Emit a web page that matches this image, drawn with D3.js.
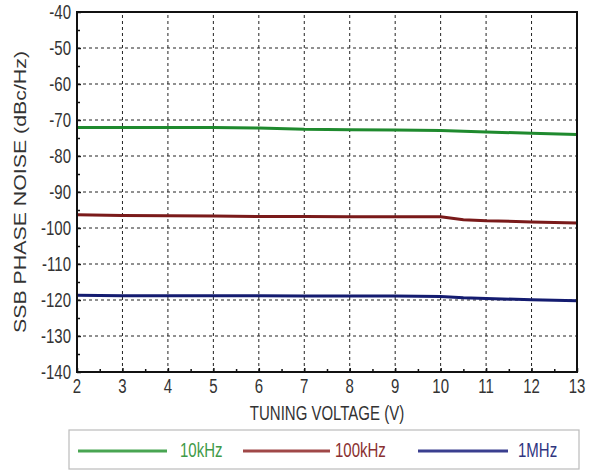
<!DOCTYPE html>
<html>
<head>
<meta charset="utf-8">
<script src="https://cdn.jsdelivr.net/npm/d3@7"></script>
<style>
  body { margin: 0; background: #fff; }
  text { font-family: Arial, "Liberation Sans", sans-serif; }
</style>
</head>
<body>
<script>
// tuning voltage points and phase noise per offset
var voltages = [2, 3, 4, 5, 6, 7, 8, 9, 10, 10.5, 11, 12, 13];
var noise10k = [-72.1, -72.1, -72.1, -72.1, -72.2, -72.6, -72.7, -72.8, -72.9, -73.1, -73.3, -73.7, -74.0];
var noise100k = [-96.3, -96.5, -96.6, -96.7, -96.8, -96.8, -96.9, -96.9, -96.9, -97.7, -98.0, -98.3, -98.6];
var noise1M = [-118.7, -118.8, -118.8, -118.8, -118.8, -118.9, -118.9, -118.9, -119.0, -119.4, -119.6, -119.9, -120.2];

var seriesNames = ['10kHz', '100kHz', '1MHz'];
var seriesColors = ['#1f8a2e', '#7a1a1a', '#141c70'];
var legendColors = ['#49a552', '#a04848', '#3a3f8f'];
var legendTextColors = ['#3f9a48', '#8a3030', '#2f357f'];
var xTicks = d3.range(2, 14);
var yTicks = d3.range(-140, -39, 10);

var width = 590, height = 474;
var margin = {left: 77, right: 13, top: 12, bottom: 102};
var stretch = 1.3; // the source text is drawn taller than wide

var svg = d3.select('body').append('svg')
  .attr('width', width)
  .attr('height', height);

var x = d3.scaleLinear().domain([2, 13]).range([margin.left, width - margin.right]);
var y = d3.scaleLinear().domain([-140, -40]).range([height - margin.bottom, margin.top]);

// hyphen instead of unicode minus, like the original
var fmt = function(d) { return String(d); };

// grid
var grid = svg.append('g');
grid.selectAll('.gx').data(xTicks.slice(1, -1)).enter().append('line')
  .attr('x1', function(d) { return x(d); }).attr('x2', function(d) { return x(d); })
  .attr('y1', y(-140)).attr('y2', y(-40))
  .attr('stroke', '#222').attr('stroke-width', 1).attr('stroke-dasharray', '3,3');
grid.selectAll('.gy').data(yTicks.slice(1, -1)).enter().append('line')
  .attr('x1', x(2)).attr('x2', x(13))
  .attr('y1', function(d) { return y(d); }).attr('y2', function(d) { return y(d); })
  .attr('stroke', '#222').attr('stroke-width', 1).attr('stroke-dasharray', '3,3');

// data lines
var line = d3.line()
  .x(function(d) { return x(d[0]); })
  .y(function(d) { return y(d[1]); });
[noise10k, noise100k, noise1M].forEach(function(vals, i) {
  svg.append('path')
    .datum(voltages.map(function(v, j) { return [v, vals[j]]; }))
    .attr('d', line)
    .attr('fill', 'none')
    .attr('stroke', seriesColors[i])
    .attr('stroke-width', 3);
});

// axes with inward ticks, labels drawn separately
var xAxis = svg.append('g').attr('transform', 'translate(0,' + y(-140) + ')')
  .call(d3.axisBottom(x).tickValues(xTicks).tickSize(-4).tickFormat(''));
var xMinor = svg.append('g').attr('transform', 'translate(0,' + y(-140) + ')')
  .call(d3.axisBottom(x).tickValues(d3.range(2.5, 13, 1)).tickSize(-3).tickFormat(''));
var yAxis = svg.append('g').attr('transform', 'translate(' + x(2) + ',0)')
  .call(d3.axisLeft(y).tickValues(yTicks).tickSize(-4).tickFormat(''));
var yMinor = svg.append('g').attr('transform', 'translate(' + x(2) + ',0)')
  .call(d3.axisLeft(y).tickValues(d3.range(-135, -40, 10)).tickSize(-3).tickFormat(''));

[xAxis, xMinor, yAxis, yMinor].forEach(function(a) {
  a.select('.domain').remove();
  a.selectAll('line').attr('stroke', '#111').attr('stroke-width', 1.5);
});

svg.append('g').selectAll('text').data(xTicks).enter().append('text')
  .attr('transform', function(d) { return 'translate(' + x(d) + ',' + (y(-140) + 21) + ') scale(1,' + stretch + ')'; })
  .attr('text-anchor', 'middle').attr('font-size', 15).attr('fill', '#333')
  .text(fmt);
svg.append('g').selectAll('text').data(yTicks).enter().append('text')
  .attr('transform', function(d) { return 'translate(' + (x(2) - 6) + ',' + (y(d) + 7) + ') scale(1,' + stretch + ')'; })
  .attr('text-anchor', 'end').attr('font-size', 15).attr('fill', '#333')
  .text(fmt);

// frame
svg.append('rect')
  .attr('x', x(2)).attr('y', y(-40))
  .attr('width', x(13) - x(2)).attr('height', y(-140) - y(-40))
  .attr('fill', 'none').attr('stroke', '#111').attr('stroke-width', 2);

// axis titles
svg.append('text')
  .attr('transform', 'translate(' + ((x(2) + x(13)) / 2) + ',420) scale(1,' + stretch + ')')
  .attr('text-anchor', 'middle').attr('font-size', 15).attr('fill', '#333')
  .text('TUNING VOLTAGE (V)');
svg.append('text')
  .attr('transform', 'translate(26,' + ((y(-40) + y(-140)) / 2) + ') rotate(-90)')
  .attr('text-anchor', 'middle').attr('font-size', 17).attr('fill', '#333')
  .attr('textLength', 282).attr('lengthAdjust', 'spacingAndGlyphs')
  .text('SSB PHASE NOISE (dBc/Hz)');

// legend
svg.append('rect')
  .attr('x', 69).attr('y', 430).attr('width', 510).attr('height', 39)
  .attr('fill', '#fff').attr('stroke', '#bbb').attr('stroke-width', 1.2);
var legendLines = [[78, 167], [243, 330], [418, 508]];
var legendText = [180, 335, 518];
seriesNames.forEach(function(name, i) {
  svg.append('line')
    .attr('x1', legendLines[i][0]).attr('x2', legendLines[i][1])
    .attr('y1', 451).attr('y2', 451)
    .attr('stroke', legendColors[i]).attr('stroke-width', 3);
  svg.append('text')
    .attr('transform', 'translate(' + legendText[i] + ',457) scale(1,' + stretch + ')')
    .attr('font-size', 15).attr('fill', legendTextColors[i])
    .text(name);
});
</script>
</body>
</html>
